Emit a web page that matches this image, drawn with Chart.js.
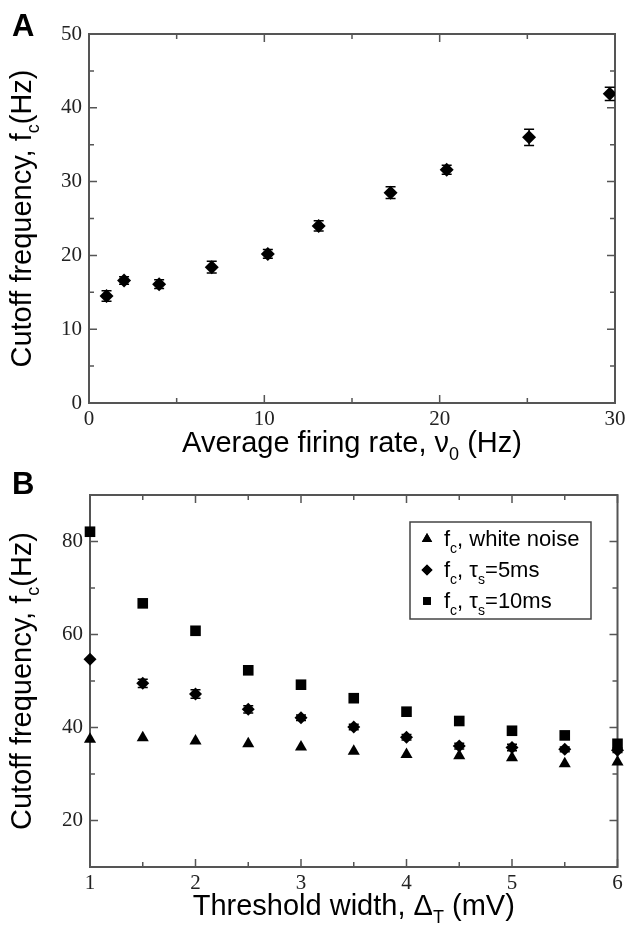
<!DOCTYPE html>
<html><head><meta charset="utf-8">
<script src="https://cdn.jsdelivr.net/npm/chart.js@4"></script>
<style>
html,body{margin:0;padding:0;background:#fff;overflow:hidden;}
canvas{position:absolute;left:0;display:block;}
#ca{top:0;}
#cb{top:460px;}
</style></head><body>
<canvas id="ca" width="625" height="460"></canvas>
<canvas id="cb" width="625" height="466"></canvas>
<script>
// ---------- Panel A data ----------
const rateA   = [1, 2, 4, 7, 10.2, 13.1, 17.2, 20.4, 25.1, 29.7];
const cutoffA = [14.5, 16.6, 16.1, 18.4, 20.2, 24.0, 28.5, 31.6, 36.0, 41.9];
const errA    = [0.7, 0.5, 0.6, 0.8, 0.6, 0.7, 0.8, 0.6, 1.1, 0.9];
const xTicksA = [0, 10, 20, 30];
const xMinorA = [5, 15, 25];
const yTicksA = [0, 10, 20, 30, 40, 50];
const yMinorA = [5, 15, 25, 35, 45];

// ---------- Panel B data ----------
const widthB  = [1, 1.5, 2, 2.5, 3, 3.5, 4, 4.5, 5, 5.5, 6];
const whiteB  = [37.5, 37.8, 37.1, 36.5, 35.8, 34.9, 34.2, 33.9, 33.5, 32.2, 32.6];
const tau5B   = [54.7, 49.5, 47.2, 43.9, 42.1, 40.1, 37.9, 36.0, 35.7, 35.3, 35.1];
const tau5Err = [0, 0.9, 0.9, 0.8, 0.6, 0.6, 0.6, 0.6, 0.7, 0.5, 0.5];
const tau10B  = [82.1, 66.7, 60.8, 52.3, 49.2, 46.3, 43.4, 41.4, 39.3, 38.3, 36.5];
const xTicksB = [1, 2, 3, 4, 5, 6];
const xMinorB = [1.5, 2.5, 3.5, 4.5, 5.5];
const yTicksB = [20, 40, 60, 80];
const yMinorB = [30, 50, 70, 90];
const legendB = ['white noise', '5ms', '10ms'];

const TITLE_FONT = '29px "Liberation Sans", Arial, sans-serif';
const SUB_FONT = '18px "Liberation Sans", Arial, sans-serif';
const TICK_FONT = {family: '"Liberation Serif", "Times New Roman", serif', size: 21};

function pts(xs, ys) { return xs.map((x, i) => ({x: x, y: ys[i]})); }

function richWidth(ctx, segs, font, subFont) {
  let w = 0;
  segs.forEach(s => { ctx.font = s.sub ? subFont : font; w += ctx.measureText(s.t).width; });
  return w;
}
function drawRich(ctx, segs, x, y, font, subFont, drop, center) {
  let cx = center ? x - richWidth(ctx, segs, font, subFont) / 2 : x;
  ctx.textBaseline = 'alphabetic';
  ctx.textAlign = 'left';
  segs.forEach(s => {
    ctx.font = s.sub ? subFont : font;
    ctx.fillText(s.t, cx, y + (s.sub ? drop : 0));
    cx += ctx.measureText(s.t).width;
  });
}

const framePlugin = {
  id: 'frame',
  beforeDatasetsDraw(chart, args, opts) {
    const ctx = chart.ctx, a = chart.chartArea;
    const xs = chart.scales.x, ys = chart.scales.y;
    ctx.save();
    ctx.strokeStyle = '#555';
    ctx.lineWidth = 2;
    ctx.strokeRect(a.left, a.top, a.right - a.left, a.bottom - a.top);
    ctx.lineWidth = 1.5;
    ctx.beginPath();
    const tk = (vals, len, isX) => vals.forEach(v => {
      if (isX) {
        const p = xs.getPixelForValue(v);
        ctx.moveTo(p, a.bottom); ctx.lineTo(p, a.bottom - len);
        ctx.moveTo(p, a.top); ctx.lineTo(p, a.top + len);
      } else {
        const p = ys.getPixelForValue(v);
        ctx.moveTo(a.left, p); ctx.lineTo(a.left + len, p);
        ctx.moveTo(a.right, p); ctx.lineTo(a.right - len, p);
      }
    });
    tk(opts.xMajor, 8, true); tk(opts.xMinor, 5, true);
    tk(opts.yMajor, 8, false); tk(opts.yMinor, 5, false);
    ctx.stroke();
    // error bars
    ctx.strokeStyle = '#000';
    ctx.lineWidth = 1.5;
    chart.data.datasets.forEach(ds => {
      if (!ds.errors) return;
      ctx.beginPath();
      ds.data.forEach((d, i) => {
        const e = ds.errors[i];
        if (!e) return;
        const px = xs.getPixelForValue(d.x);
        const y1 = ys.getPixelForValue(d.y - e), y2 = ys.getPixelForValue(d.y + e);
        ctx.moveTo(px, y1); ctx.lineTo(px, y2);
        ctx.moveTo(px - 5, y1); ctx.lineTo(px + 5, y1);
        ctx.moveTo(px - 5, y2); ctx.lineTo(px + 5, y2);
      });
      ctx.stroke();
    });
    ctx.restore();
  },
  afterDraw(chart, args, opts) {
    const ctx = chart.ctx, a = chart.chartArea;
    ctx.save();
    ctx.fillStyle = '#000';
    // panel letter
    ctx.font = 'bold 31px "Liberation Sans", Arial, sans-serif';
    ctx.textBaseline = 'alphabetic';
    ctx.textAlign = 'left';
    ctx.fillText(opts.letter, 12, opts.letterY);
    // x title
    drawRich(ctx, opts.xTitle, (a.left + a.right) / 2, opts.xTitleY, TITLE_FONT, SUB_FONT, 8, true);
    // y title (rotated)
    ctx.save();
    ctx.translate(opts.yTitleX, (a.top + a.bottom) / 2);
    ctx.rotate(-Math.PI / 2);
    drawRich(ctx, opts.yTitle, 0, 0, TITLE_FONT, SUB_FONT, 8, true);
    ctx.restore();
    // legend
    if (opts.legend) {
      const L = opts.legend;
      ctx.strokeStyle = '#444';
      ctx.lineWidth = 1.5;
      ctx.strokeRect(L.x, L.y, L.w, L.h);
      const lf = '22px "Liberation Sans", Arial, sans-serif';
      const ls = '14px "Liberation Sans", Arial, sans-serif';
      L.rows.forEach((r, i) => {
        const cy = L.y + L.first + i * L.step;
        const ds = chart.data.datasets[i];
        Chart.helpers.drawPoint(ctx, {pointStyle: ds.pointStyle, radius: L.mr[i], borderWidth: 0}, L.x + 17, cy - 7);
        ctx.fillStyle = '#000';
        ctx.fill();
        drawRich(ctx, r, L.x + 34, cy, lf, ls, 7, false);
      });
    }
    ctx.restore();
  }
};

const yTitleSegs = [{t: 'Cutoff frequency, f'}, {t: 'c', sub: true}, {t: '(Hz)'}];

function axisCfg(min, max, ticks, pad, fit, isX) {
  return {
    type: 'linear', min: min, max: max,
    afterBuildTicks: s => { s.ticks = ticks.map(v => ({value: v})); },
    ticks: {font: TICK_FONT, color: '#222', padding: pad, maxRotation: 0, autoSkip: false},
    grid: {display: false, drawTicks: false},
    border: {display: false},
    afterFit: s => {
      if (isX) s.height = fit; else s.width = fit;
      s.paddingLeft = 0; s.paddingRight = 0; s.paddingTop = 0; s.paddingBottom = 0;
    }
  };
}

new Chart(document.getElementById('ca'), {
  type: 'scatter',
  data: {datasets: [{
    data: pts(rateA, cutoffA), errors: errA,
    pointStyle: 'rectRot', pointRadius: 7, backgroundColor: '#000', borderColor: '#000', borderWidth: 0
  }]},
  options: {
    responsive: false, animation: false, devicePixelRatio: 1,
    layout: {padding: {left: 0, right: 10, top: 34, bottom: 0}},
    scales: {
      x: axisCfg(0, 30, xTicksA, 4, 57, true),
      y: axisCfg(0, 50, yTicksA, 7, 89, false)
    },
    plugins: {
      legend: {display: false}, tooltip: {enabled: false},
      frame: {
        xMajor: xTicksA, xMinor: xMinorA, yMajor: yTicksA, yMinor: yMinorA,
        letter: 'A', letterY: 36, xTitleY: 452, yTitleX: 31,
        xTitle: [{t: 'Average firing rate, \u03BD'}, {t: '0', sub: true}, {t: ' (Hz)'}],
        yTitle: yTitleSegs
      }
    }
  },
  plugins: [framePlugin]
});

new Chart(document.getElementById('cb'), {
  type: 'scatter',
  data: {datasets: [
    {label: legendB[0], data: pts(widthB, whiteB), pointStyle: 'triangle', pointRadius: 7,
     backgroundColor: '#000', borderColor: '#000', borderWidth: 0},
    {label: legendB[1], data: pts(widthB, tau5B), errors: tau5Err, pointStyle: 'rectRot', pointRadius: 6.5,
     backgroundColor: '#000', borderColor: '#000', borderWidth: 0},
    {label: legendB[2], data: pts(widthB, tau10B), pointStyle: 'rect', pointRadius: 7.5,
     backgroundColor: '#000', borderColor: '#000', borderWidth: 0}
  ]},
  options: {
    responsive: false, animation: false, devicePixelRatio: 1,
    layout: {padding: {left: 0, right: 6, top: 35, bottom: 0}},
    clip: false,
    scales: {
      x: axisCfg(1, 6, xTicksB, 4, 59, true),
      y: axisCfg(10, 90, yTicksB, 7, 90, false)
    },
    plugins: {
      legend: {display: false}, tooltip: {enabled: false},
      frame: {
        xMajor: xTicksB, xMinor: xMinorB, yMajor: yTicksB, yMinor: yMinorB,
        letter: 'B', letterY: 34, xTitleY: 455, yTitleX: 31,
        xTitle: [{t: 'Threshold width, \u0394'}, {t: 'T', sub: true}, {t: ' (mV)'}],
        yTitle: yTitleSegs,
        legend: {
          x: 410, y: 62, w: 181, h: 97, first: 24, step: 31, mr: [6, 5.5, 5.5],
          rows: [
            [{t: 'f'}, {t: 'c', sub: true}, {t: ', ' + legendB[0]}],
            [{t: 'f'}, {t: 'c', sub: true}, {t: ', \u03C4'}, {t: 's', sub: true}, {t: '=' + legendB[1]}],
            [{t: 'f'}, {t: 'c', sub: true}, {t: ', \u03C4'}, {t: 's', sub: true}, {t: '=' + legendB[2]}]
          ]
        }
      }
    }
  },
  plugins: [framePlugin]
});
</script>
</body></html>
